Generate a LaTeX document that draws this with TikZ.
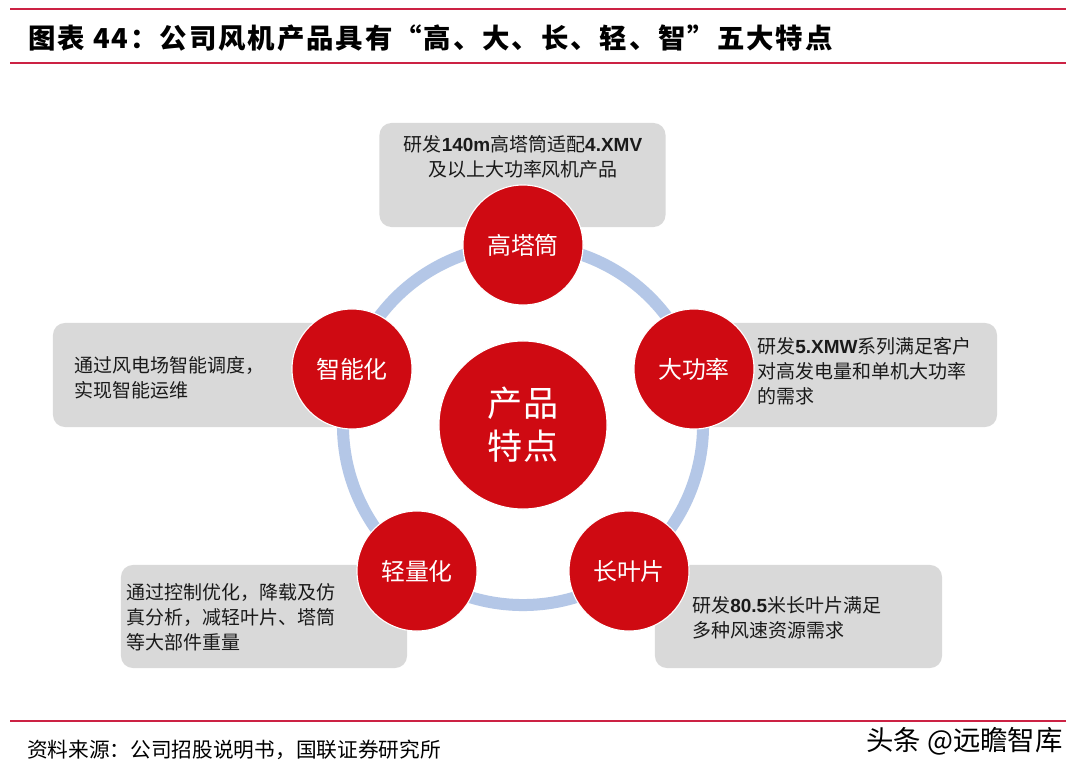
\documentclass[tikz,border=0pt]{standalone}
\usepackage{fontspec}
\setmainfont{Noto Sans CJK SC}
\newfontfamily\latinfont{Liberation Sans}
\newcommand{\numb}[1]{{\latinfont\bfseries #1}}
\usetikzlibrary{positioning}
\definecolor{FeatRed}{HTML}{CF0A12}
\definecolor{RingBlue}{HTML}{B4C7E7}
\definecolor{CardGrey}{HTML}{D9D9D9}
\definecolor{RuleRed}{HTML}{CC2244}
\definecolor{CardText}{HTML}{1A1A1A}

\begin{document}
\begin{tikzpicture}[x=0.025cm,y=-0.025cm,
feat/.style={circle,fill=FeatRed,draw=white,line width=0.8pt,minimum size=3cm,inner sep=0pt,text=white,font=\fontsize{17}{20}\selectfont},
card/.style={fill=CardGrey,rounded corners=0.3cm,inner sep=0pt,minimum height=2.6cm},
cardtext/.style={inner sep=0pt,align=left,anchor=west,text=CardText,font=\fontsize{13.5}{17.8}\selectfont},
rule/.style={draw=RuleRed,line width=1.3pt}
]
\useasboundingbox[fill=white] (0,0) rectangle (1080,775);
% header and footer rules
\draw[rule] (10,9) -- (1066,9);
\draw[rule] (10,63) -- (1066,63);
\draw[rule] (10,721) -- (1066,721);
\node[anchor=west,inner sep=0pt,font=\fontsize{19.5}{22}\selectfont\bfseries\addfontfeature{LetterSpace=7}] (title) at (28,38) {图表 44：公司风机产品具有“高、大、长、轻、智”五大特点};
\node[anchor=west,inner sep=0pt,font=\fontsize{14.7}{17}\selectfont] (source) at (27,750) {资料来源：公司招股说明书，国联证券研究所};
\node[anchor=east,inner sep=0pt,font=\fontsize{19.5}{22}\selectfont] (mark) at (1063,741) {头条 @远瞻智库};

% ring
\coordinate (hub) at (523,425);
\draw[RingBlue,line width=0.3cm] (hub) circle[radius=4.5cm];

% cards
\node[card,minimum width=7.15cm] (boxTop) at (522.5,175) {};
\node[card,minimum width=7.425cm] (boxRight) at (848.5,375) {};
\node[card,minimum width=7.3cm] (boxLeft) at (199,375) {};
\node[card,minimum width=7.15cm,minimum height=2.575cm] (boxBL) at (264,616.5) {};
\node[card,minimum width=7.175cm,minimum height=2.575cm] (boxBR) at (798.5,616.5) {};

\node[cardtext,align=center,anchor=center] (txtTop) at (523,157) {研发\numb{140m}高塔筒适配\numb{4.XMV}\\及以上大功率风机产品};
\node[cardtext] (txtRight) at (757,371) {研发\numb{5.XMW}系列满足客户\\对高发电量和单机大功率\\的需求};
\node[cardtext] (txtLeft) at (74,378) {通过风电场智能调度，\\实现智能运维};
\node[cardtext] (txtBL) at (126,617) {通过控制优化，降载及仿\\真分析，减轻叶片、塔筒\\等大部件重量};
\node[cardtext] (txtBR) at (692,617.5) {研发\numb{80.5}米长叶片满足\\多种风速资源需求};

% feature circles
\node[feat] (tall) at (523,245) {高塔筒};
\node[feat] (power) at (694,369) {大功率};
\node[feat] (smart) at (352,369) {智能化};
\node[feat] (light) at (417,571) {轻量化};
\node[feat] (blade) at (629,571) {长叶片};
\node[feat,minimum size=4.2cm,font=\fontsize{25}{30.5}\selectfont,align=center] (core) at (hub) {产品\\特点};
\end{tikzpicture}
\end{document}
